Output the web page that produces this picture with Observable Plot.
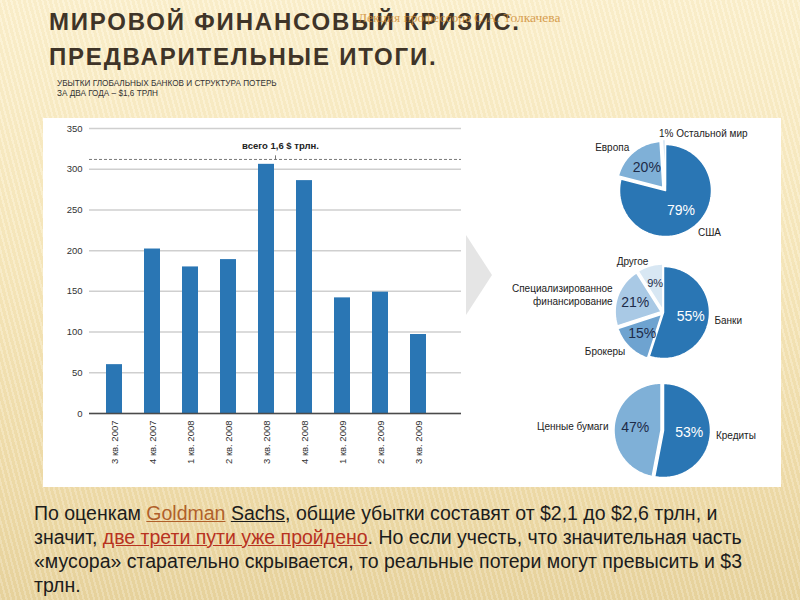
<!DOCTYPE html>
<html>
<head>
<meta charset="utf-8">
<script src="https://cdn.jsdelivr.net/npm/d3@7"></script>
<script src="https://cdn.jsdelivr.net/npm/@observablehq/plot@0.6"></script>
<style>
  html, body { margin: 0; padding: 0; }
  body { width: 800px; height: 600px; overflow: hidden; position: relative;
    font-family: "Liberation Sans", Arial, sans-serif;
    background:
      repeating-linear-gradient(75deg, rgba(255,255,255,0.18) 0px, rgba(255,255,255,0.18) 2px, rgba(200,170,100,0.06) 2px, rgba(200,170,100,0.06) 5px),
      linear-gradient(#fcf1cf 0%, #f7e8bd 45%, #efdcaa 80%, #e8d49f 100%);
  }
  .abs { position: absolute; }
  .title { left: 49px; color: #3f3428; font-weight: bold; font-size: 24px; line-height: 24px; letter-spacing: 1.8px; white-space: nowrap; }
  #lecture { left: 358px; top: 11px; font-family: "Liberation Serif", serif; font-size: 13.5px; line-height: 14px; color: #cf8b30; opacity: 0.8; white-space: nowrap; }
  #sub { left: 57px; top: 79px; font-size: 8.2px; line-height: 10px; color: #333; white-space: nowrap; }
  #box { left: 43px; top: 118px; width: 738px; height: 369px; background: #fff; }
  #arrow { left: 466px; top: 235px; width: 26px; height: 80px; background: #e5e5e5; clip-path: polygon(0 0, 100% 50%, 0 100%); }
  #bars { left: 43px; top: 118px; }
  #pies { left: 480px; top: 118px; }
  #note { left: 34px; top: 501px; font-size: 19.5px; line-height: 24px; color: #1c1c1c; white-space: nowrap; }
  #note .gold { color: #b0602a; text-decoration: underline; }
  #note .blk { text-decoration: underline; }
  #note .red { color: #b8321f; text-decoration: underline; }
</style>
</head>
<body>
<div id="title1" class="abs title" style="top:10px"></div>
<div id="title2" class="abs title" style="top:45px"></div>
<div id="lecture" class="abs">Лекция профессора С.А. Толкачева</div>
<div id="sub" class="abs">УБЫТКИ ГЛОБАЛЬНЫХ БАНКОВ И СТРУКТУРА ПОТЕРЬ<br>ЗА ДВА ГОДА – $1,6 ТРЛН</div>
<div id="box" class="abs"></div>
<div id="arrow" class="abs"></div>
<div id="bars" class="abs"></div>
<div id="pies" class="abs"></div>
<div id="note" class="abs">По оценкам <span class="gold">Goldman</span> <span class="blk">Sachs</span>, общие убытки составят от $2,1 до $2,6 трлн, и<br>значит, <span class="red">две трети пути уже пройдено</span>. Но если учесть, что значительная часть<br>«мусора» старательно скрывается, то реальные потери могут превысить и $3<br>трлн.</div>
<script>
// ---------- data ----------
const titleLines = ["МИРОВОЙ ФИНАНСОВЫЙ КРИЗИС.", "ПРЕДВАРИТЕЛЬНЫЕ ИТОГИ."];
const quarters = ["3 кв. 2007","4 кв. 2007","1 кв. 2008","2 кв. 2008","3 кв. 2008","4 кв. 2008","1 кв. 2009","2 кв. 2009","3 кв. 2009"];
const losses = [60, 202, 180, 189, 306, 286, 142, 149, 97];
const yTicks = [0, 50, 100, 150, 200, 250, 300, 350];
const totalLabel = "всего 1,6 $ трлн.";
const totalLevel = 312;       // dashed brace level (value units)
const totalLabelLevel = 328;  // annotation text level
const totalLabelAt = "3 кв. 2008";

const regionNames = ["США", "Европа", "Остальной мир"];
const regionShares = [79, 20, 1];
const regionColors = ["#2a76b4", "#7fb0d7", "#c9ddef"];

const instNames = ["Банки", "Брокеры", "Специализированное\nфинансирование", "Другое"];
const instShares = [55, 15, 21, 9];
const instColors = ["#2a76b4", "#6ea3d0", "#a9c9e5", "#d8e7f3"];

const assetNames = ["Кредиты", "Ценные бумаги"];
const assetShares = [53, 47];
const assetColors = ["#2a76b4", "#7fb0d7"];

document.getElementById("title1").textContent = titleLines[0];
document.getElementById("title2").textContent = titleLines[1];

// ---------- bar chart ----------
const barChart = Plot.plot({
  width: 430, height: 370,
  marginLeft: 46, marginRight: 12, marginTop: 10, marginBottom: 75,
  style: { fontFamily: "Liberation Sans, Arial, sans-serif", fontSize: "9px", color: "#333", background: "transparent", overflow: "visible" },
  x: { domain: quarters, range: [46, 399.7], paddingInner: 0.588, paddingOuter: 0.353, label: null },
  y: { domain: [0, 350], label: null },
  marks: [
    Plot.gridY(yTicks, { stroke: "#cfcfcf", strokeOpacity: 1, strokeWidth: 1.5 }),
    Plot.barY(quarters, { x: d => d, y: (d, i) => losses[i], fill: "#2a76b4" }),
    Plot.ruleY([0], { stroke: "#4a4a4a", strokeWidth: 1.5 }),
    Plot.axisY(yTicks, { tickSize: 0, tickPadding: 7, label: null, fontSize: 9.5 }),
    Plot.axisX({ tickSize: 0, tickRotate: -90, tickPadding: 7, label: null, fontSize: 9.5 }),
    Plot.ruleY([totalLevel], { stroke: "#555", strokeDasharray: "3,2", strokeWidth: 0.8 }),
    Plot.link([totalLabelAt], { x1: d => d, x2: d => d, y1: () => totalLevel, y2: () => totalLevel + 5, dx: 9, stroke: "#555", strokeWidth: 0.8 }),
    Plot.text([totalLabel], { x: () => totalLabelAt, y: () => totalLabelLevel, text: d => d, dx: 14, fontWeight: "bold", fontSize: 9.5, fill: "#222" })
  ]
});
document.getElementById("bars").append(barChart);

// ---------- pies ----------
function pieData(key, names, shares, colors, cx, cy, r, explode, pctR, lblR) {
  const total = d3.sum(shares);
  const slices = [], labels = [], pcts = [];
  let a0 = 0;
  shares.forEach((s, i) => {
    const a1 = a0 + s / total * 2 * Math.PI;
    const mid = (a0 + a1) / 2;
    const ex = explode[i];
    const ox = cx + ex * Math.sin(mid), oy = cy - ex * Math.cos(mid);
    const pts = [{ x: ox, y: oy }];
    const n = Math.max(4, Math.ceil((a1 - a0) / 0.03));
    for (let k = 0; k <= n; k++) {
      const a = a0 + (a1 - a0) * k / n;
      pts.push({ x: ox + r * Math.sin(a), y: oy - r * Math.cos(a) });
    }
    pts.push({ x: ox, y: oy });
    pts.forEach(p => slices.push({ ...p, key: key + i, color: colors[i] }));
    const sx = Math.sin(mid), sy = -Math.cos(mid);
    const isTiny = s / total < 0.05;
    if (!isTiny) {
      pcts.push({ x: ox + pctR * r * sx, y: oy + pctR * r * sy, text: s + "%", light: i === 0, size: s < 10 ? 11 : 14 });
      labels.push({ x: ox + lblR * r * sx, y: oy + lblR * r * sy, text: names[i], anchor: sx >= 0 ? "start" : "end" });
    } else {
      labels.push({ x: ox + 0.95 * r * sx - 5, y: oy + 1.12 * r * sy, text: s + "% " + names[i], anchor: "start" });
    }
    a0 = a1;
  });
  return { slices, labels, pcts };
}

const p1 = pieData("a", regionNames, regionShares, regionColors, 185, 72, 46, [0, 4, 5], 0.55, 1.15);
const p2 = pieData("b", instNames, instShares, instColors, 183, 194, 46, [0, 2.5, 2.5, 2.5], 0.6, 1.12);
const p3 = pieData("c", assetNames, assetShares, assetColors, 183, 312, 47, [0, 2.5], 0.55, 1.12);
const slices = [...p1.slices, ...p2.slices, ...p3.slices];
const labels = [...p1.labels, ...p2.labels, ...p3.labels];
const pcts = [...p1.pcts, ...p2.pcts, ...p3.pcts];

const pieChart = Plot.plot({
  width: 300, height: 370, margin: 0,
  style: { fontFamily: "Liberation Sans, Arial, sans-serif", background: "transparent", overflow: "visible" },
  x: { domain: [0, 300], range: [0, 300], axis: null },
  y: { domain: [0, 370], range: [0, 370], axis: null },
  color: { type: "identity" },
  marks: [
    Plot.line(slices, { x: "x", y: "y", z: "key", fill: "color", stroke: "white", strokeWidth: 1.5, curve: "linear" }),
    Plot.text(pcts, { x: "x", y: "y", text: "text", fill: d => d.light ? "#ffffff" : "#1d2b48", fontSize: "size" }),
    Plot.text(labels.filter(d => d.anchor === "start"), { x: "x", y: "y", text: "text", textAnchor: "start", fill: "#222", fontSize: 10 }),
    Plot.text(labels.filter(d => d.anchor === "end"), { x: "x", y: "y", text: "text", textAnchor: "end", fill: "#222", fontSize: 10, lineHeight: 1.35 })
  ]
});
document.getElementById("pies").append(pieChart);
</script>
</body>
</html>
